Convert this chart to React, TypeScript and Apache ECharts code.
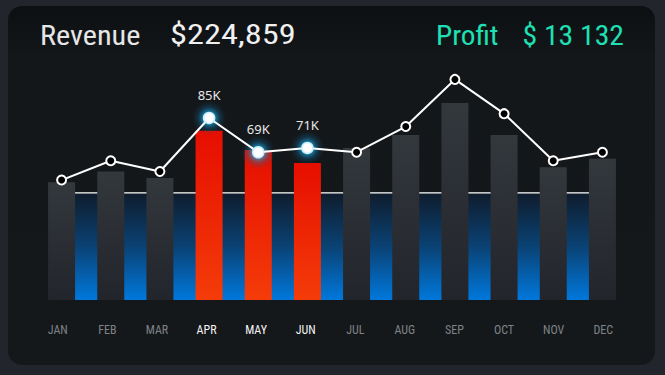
import React, { useEffect, useRef } from "react";
import * as echarts from "echarts";

const months = ["JAN", "FEB", "MAR", "APR", "MAY", "JUN", "JUL", "AUG", "SEP", "OCT", "NOV", "DEC"];
const barValues = [55, 60, 57, 79, 70, 64, 71, 77, 92, 77, 62, 66];
const lineValues = [56, 65, 60, 85, 69, 71, 69, 81, 103, 87, 65, 69];
const highlighted = ["APR", "MAY", "JUN"];
const baselineValue = 50;
const revenueLabel = "Revenue";
const revenueText = "$224,859";
const profitLabel = "Profit";
const profitText = "$ 13 132";

const NARROW = '"Liberation Sans Narrow", "Roboto Condensed", "Arial Narrow", Roboto, sans-serif';

export default function App() {
  const ref = useRef<HTMLDivElement>(null);
  useEffect(() => {
    if (!ref.current) return;
    const chart = echarts.init(ref.current, undefined, { renderer: "svg" });
    const isHi = (i: number) => highlighted.includes(months[i]);

    const grayGrad = new echarts.graphic.LinearGradient(0, 0, 0, 1, [
      { offset: 0, color: "#33383d" },
      { offset: 1, color: "#22252b" },
    ]);
    const redGrad = new echarts.graphic.LinearGradient(0, 0, 0, 1, [
      { offset: 0, color: "#e60e00" },
      { offset: 1, color: "#f43c09" },
    ]);
    const glowGrad = new echarts.graphic.RadialGradient(0.5, 0.5, 0.5, [
      { offset: 0, color: "rgba(60,215,255,1)" },
      { offset: 0.35, color: "rgba(25,175,230,0.8)" },
      { offset: 0.65, color: "rgba(15,115,165,0.35)" },
      { offset: 1, color: "rgba(10,80,120,0)" },
    ]);

    const titleStyle = (text: string, fill: string, align: string) => ({
      text,
      fill,
      fontSize: 28,
      fontFamily: NARROW,
      verticalAlign: "middle",
      align,
    });

    chart.setOption({
      animation: false,
      backgroundColor: "#22252b",
      graphic: [
        {
          type: "rect",
          z: -10,
          shape: { x: 8, y: 6, width: 647, height: 359, r: 14 },
          style: {
            fill: new echarts.graphic.LinearGradient(0, 0, 0, 1, [
              { offset: 0, color: "#0d1013" },
              { offset: 0.15, color: "#14171a" },
              { offset: 1, color: "#15181b" },
            ]),
          },
        },
        { type: "text", x: 40, y: 35, scaleX: 1.08, style: titleStyle(revenueLabel, "#e6e6e6", "left") },
        { type: "text", x: 170, y: 35, scaleX: 1.23, style: titleStyle(revenueText, "#f0f0f0", "left") },
        { type: "text", x: 436, y: 35, scaleX: 1.045, style: titleStyle(profitLabel, "#1fe0b4", "left") },
        { type: "text", x: 624, y: 35, scaleX: 1.06, style: titleStyle(profitText, "#1fe0b4", "right") },
      ],
      grid: [
        { left: 37, right: 38, top: 43, bottom: 75 },
        { left: 33, right: 37, top: 43, bottom: 75 },
      ],
      xAxis: [
        {
          type: "category",
          data: months,
          gridIndex: 0,
          axisLine: { show: false },
          axisTick: { show: false },
          axisLabel: { show: false },
        },
        {
          type: "category",
          data: months,
          gridIndex: 1,
          axisLine: { show: false },
          axisTick: { show: false },
          axisLabel: {
            margin: 24,
            fontSize: 12,
            fontFamily: NARROW,
            color: (v: string) => (highlighted.includes(v) ? "#f4f4f4" : "#7f8387"),
          },
        },
      ],
      yAxis: [
        { type: "value", min: 0, max: 120, show: false, gridIndex: 0 },
        { type: "value", min: 0, max: 120, show: false, gridIndex: 1 },
      ],
      series: [
        {
          type: "line",
          data: months.map(() => baselineValue),
          symbol: "none",
          z: 1,
          lineStyle: { color: "#ffffff", width: 1.2 },
          areaStyle: {
            origin: "start",
            opacity: 1,
            color: new echarts.graphic.LinearGradient(0, 0, 0, 1, [
              { offset: 0, color: "#0f1c2c" },
              { offset: 0.5, color: "#0a4274" },
              { offset: 1, color: "#0078dc" },
            ]),
          },
        },
        {
          type: "bar",
          data: barValues.map((v, i) => ({
            value: v,
            itemStyle: { color: isHi(i) ? redGrad : grayGrad },
          })),
          barWidth: 27,
          z: 2,
        },
        {
          type: "scatter",
          data: lineValues.map((v, i) => (isHi(i) ? v : "-")),
          symbol: "circle",
          symbolSize: 34,
          z: 3,
          silent: true,
          itemStyle: { color: glowGrad, opacity: 0.85 },
        },
        {
          type: "line",
          data: lineValues.map((v, i) =>
            isHi(i)
              ? {
                  value: v,
                  symbolSize: 11,
                  itemStyle: {
                    color: "#ffffff",
                    borderColor: "#c8f0ff",
                    borderWidth: 1.5,
                  },
                  label: {
                    show: true,
                    position: "top",
                    distance: 10,
                    formatter: (p: any) => p.value + "K",
                    color: "#e8e8e8",
                    fontSize: 13,
                    fontFamily: '"Noto Sans", sans-serif',
                  },
                }
              : { value: v }
          ),
          z: 4,
          symbol: "circle",
          symbolSize: 9,
          itemStyle: { color: "#000000", borderColor: "#ffffff", borderWidth: 2 },
          lineStyle: { color: "#ffffff", width: 2 },
        },
      ],
    });
    return () => chart.dispose();
  }, []);
  return (
    <div
      ref={ref}
      style={{ position: "fixed", left: 0, top: 0, width: 665, height: 375 }}
    />
  );
}
